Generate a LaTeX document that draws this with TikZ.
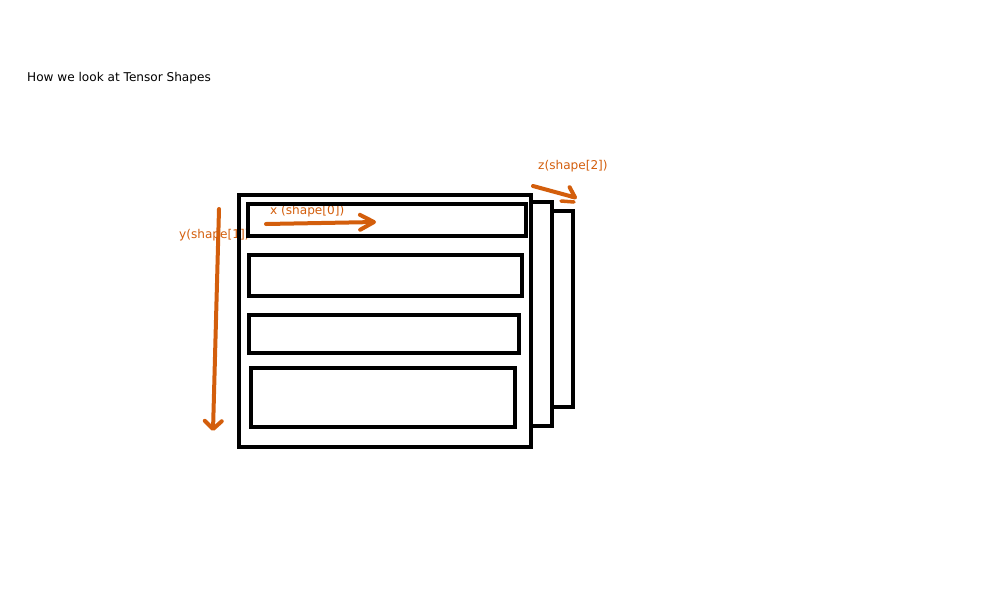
\documentclass[tikz,border=0pt]{standalone}
\usepackage{fontspec}
\setmainfont{DejaVu Sans}
\usepackage{xcolor}
\usepackage{tikz}
\usetikzlibrary{arrows.meta}
\definecolor{rust}{RGB}{211,94,12}
\pgfdeclarelayer{nodelayer}
\pgfdeclarelayer{edgelayer}
\pgfsetlayers{nodelayer,edgelayer,main}
\tikzset{
    none/.style = {inner sep=0pt},
    label/.style = {inner sep=0pt, anchor=base west, font=\fontsize{12.1}{14}\selectfont},
    box/.style = {draw=black, line width=4pt, line join=miter},
    arrow/.style = {draw=rust, line width=4pt, line cap=round, line join=round,
        -{Straight Barb[length=8pt, width=17pt, round]}},
    longarrow/.style = {draw=rust, line width=4pt, line cap=round, line join=round,
        -{Straight Barb[length=14pt, width=15pt, round]}},
    halfarrow/.style = {draw=rust, line width=4pt, line cap=round, line join=round,
        -{Straight Barb[length=8pt, width=17pt, round, harpoon]}},
    stroke/.style = {draw=rust, line width=3.5pt, line cap=round}
}

\begin{document}
\begin{tikzpicture}[x=1pt, y=-1pt]
    \useasboundingbox (0, 0) rectangle (1000, 600);
    \begin{pgfonlayer}{nodelayer}
        \node [style=label] (0) at (27, 81) {How we look at Tensor Shapes};
        \node [style=label, text=rust] (1) at (538, 169) {z(shape[2])};
        \node [style=label, text=rust] (2) at (270, 214) {x (shape[0])};
        \node [style=label, text=rust] (3) at (179, 238.5) {y(shape[1])};
        \node [style=none] (4) at (239, 195) {};
        \node [style=none] (5) at (531, 447) {};
        \node [style=none] (6) at (248, 204) {};
        \node [style=none] (7) at (526, 236) {};
        \node [style=none] (8) at (249, 255) {};
        \node [style=none] (9) at (522, 296) {};
        \node [style=none] (10) at (249, 315) {};
        \node [style=none] (11) at (519, 353) {};
        \node [style=none] (12) at (251, 368) {};
        \node [style=none] (13) at (515, 427) {};
        \node [style=none] (14) at (531, 202) {};
        \node [style=none] (15) at (552, 202) {};
        \node [style=none] (16) at (552, 426) {};
        \node [style=none] (17) at (531, 426) {};
        \node [style=none] (18) at (552, 211) {};
        \node [style=none] (19) at (573, 211) {};
        \node [style=none] (20) at (573, 407) {};
        \node [style=none] (21) at (552, 407) {};
        \node [style=none] (22) at (219, 209) {};
        \node [style=none] (23) at (213, 431) {};
        \node [style=none] (24) at (266, 224) {};
        \node [style=none] (25) at (376, 222) {};
        \node [style=none] (26) at (533, 186) {};
        \node [style=none] (27) at (577, 198) {};
        \node [style=none] (28) at (561, 201) {};
        \node [style=none] (29) at (574, 202) {};
    \end{pgfonlayer}
    \begin{pgfonlayer}{edgelayer}
        \draw [style=box] (4.center) rectangle (5.center);
        \draw [style=box] (6.center) rectangle (7.center);
        \draw [style=box] (8.center) rectangle (9.center);
        \draw [style=box] (10.center) rectangle (11.center);
        \draw [style=box] (12.center) rectangle (13.center);
        \draw [style=box] (14.center) to (15.center) to (16.center) to (17.center);
        \draw [style=box] (18.center) to (19.center) to (20.center) to (21.center);
        \draw [style=arrow] (22.center) to (23.center);
        \draw [style=longarrow] (24.center) to (25.center);
        \draw [style=halfarrow] (26.center) to (27.center);
        \draw [style=stroke] (28.center) to (29.center);
    \end{pgfonlayer}
\end{tikzpicture}
\end{document}
